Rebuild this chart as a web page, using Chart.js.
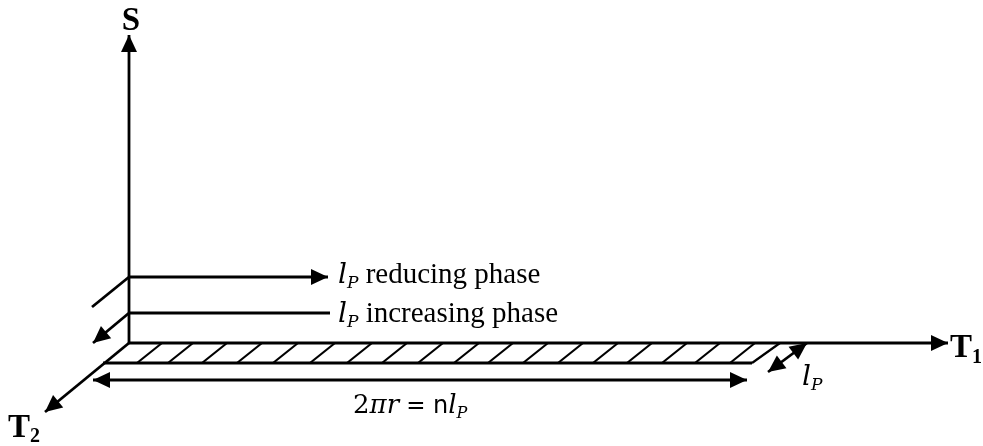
<!DOCTYPE html>
<html>
<head>
<meta charset="utf-8">
<script src="https://cdn.jsdelivr.net/npm/chart.js@4.4.1/dist/chart.umd.min.js"></script>
<style>
  html, body { margin: 0; background: #fff; }
  #wrap { width: 983px; height: 446px; }
</style>
</head>
<body>
<div id="wrap"><canvas id="diagram"></canvas></div>
<script>
// diagram coordinates (x to the right, y downwards)
const origin = [129, 343];
const axisEnds = { S: [129, 35], T1: [948, 343], T2: [45, 412] };

// l_P phase markers: [reducing, increasing]
const phaseY = [277, 313];
const phaseEndX = [328, 330];
const phaseDiagEnd = [[92, 307], [93, 343]];

// hatched strip along T1
const stripBottom = [[103, 363], [752, 363]];
const stripRightEdge = [[752, 363], [780, 343]];
const hatchBottomX = [137, 168, 202, 237, 273, 310, 347, 382, 418, 454, 488, 523, 558, 593, 627, 662, 695, 730];
const hatchTopX = [162, 193, 227, 262, 298, 335, 372, 407, 443, 479, 513, 548, 583, 618, 652, 687, 720, 755];

// dimension arrows
const circumArrow = [[93, 380], [747, 380]];
const widthArrow = [[768, 372], [807, 343]];

const serif = '"Liberation Serif", "Times New Roman", serif';
const math = '"DejaVu Serif", serif';
const sans = '"DejaVu Sans", sans-serif';

function pts(list) {
  return list.map(p => ({ x: p[0], y: p[1] }));
}

function seg(a, b, arrow, width) {
  return {
    data: pts([a, b]),
    showLine: true,
    borderColor: '#000',
    borderWidth: width || 2.8,
    pointRadius: 0,
    arrow: arrow || null,
  };
}

const datasets = [
  seg(origin, axisEnds.S, 'end'),
  seg(origin, axisEnds.T1, 'end'),
  seg(origin, axisEnds.T2, 'end'),
  seg([origin[0], phaseY[0]], [phaseEndX[0], phaseY[0]], 'end'),
  seg([origin[0], phaseY[0]], phaseDiagEnd[0]),
  seg([origin[0], phaseY[1]], [phaseEndX[1], phaseY[1]]),
  seg([origin[0], phaseY[1]], phaseDiagEnd[1], 'end'),
  seg(stripBottom[0], stripBottom[1]),
  seg(stripRightEdge[0], stripRightEdge[1], null, 2.2),
  seg(circumArrow[0], circumArrow[1], 'both'),
  seg(widthArrow[0], widthArrow[1], 'both'),
];
hatchBottomX.forEach((x, i) => {
  datasets.push(seg([x, 363], [hatchTopX[i], 343], null, 2.2));
});

// text labels: runs of [text, font, baseline shift]
const labels = [
  { at: [131, 30], align: 'center', runs: [['S', 'bold 33px ' + serif, 0]] },
  { at: [950, 357], runs: [['T', 'bold 33px ' + serif, 0], ['1', 'bold 20px ' + serif, 6]] },
  { at: [8, 437], runs: [['T', 'bold 33px ' + serif, 0], ['2', 'bold 20px ' + serif, 5]] },
  { at: [338, 283], runs: [['l', 'italic 28px ' + math, 0], ['P', 'italic 17px ' + math, 5],
                           [' reducing phase', '29px ' + serif, 0]] },
  { at: [338, 322], runs: [['l', 'italic 28px ' + math, 0], ['P', 'italic 17px ' + math, 5],
                           [' increasing phase', '29px ' + serif, 0]] },
  { at: [353, 413], runs: [['2', '26px ' + math, 0], ['πr', 'italic 26px ' + math, 0],
                           [' = ', '23px ' + sans, 0], ['n', '24px ' + sans, 0],
                           ['l', 'italic 26px ' + math, 0], ['P', 'italic 16px ' + math, 5]] },
  { at: [802, 385], runs: [['l', 'italic 28px ' + math, 0], ['P', 'italic 17px ' + math, 5]] },
];

const arrowPlugin = {
  id: 'arrows',
  afterDatasetsDraw(chart) {
    const ctx = chart.ctx;
    const sx = chart.scales.x, sy = chart.scales.y;
    const head = (from, to) => {
      const ang = Math.atan2(to.y - from.y, to.x - from.x);
      const len = 17, half = 8;
      ctx.beginPath();
      ctx.moveTo(to.x, to.y);
      ctx.lineTo(to.x - len * Math.cos(ang) + half * Math.sin(ang), to.y - len * Math.sin(ang) - half * Math.cos(ang));
      ctx.lineTo(to.x - len * Math.cos(ang) - half * Math.sin(ang), to.y - len * Math.sin(ang) + half * Math.cos(ang));
      ctx.closePath();
      ctx.fill();
    };
    ctx.save();
    ctx.fillStyle = '#000';
    chart.data.datasets.forEach(ds => {
      if (!ds.arrow) return;
      const p = ds.data.map(d => ({ x: sx.getPixelForValue(d.x), y: sy.getPixelForValue(d.y) }));
      head(p[p.length - 2], p[p.length - 1]);
      if (ds.arrow === 'both') head(p[1], p[0]);
    });
    ctx.restore();
  },
  afterDraw(chart) {
    const ctx = chart.ctx;
    const sx = chart.scales.x, sy = chart.scales.y;
    ctx.save();
    ctx.fillStyle = '#000';
    ctx.textBaseline = 'alphabetic';
    ctx.textAlign = 'left';
    labels.forEach(lb => {
      let x = sx.getPixelForValue(lb.at[0]);
      const y = sy.getPixelForValue(lb.at[1]);
      if (lb.align === 'center') {
        let w = 0;
        lb.runs.forEach(r => { ctx.font = r[1]; w += ctx.measureText(r[0]).width; });
        x -= w / 2;
      }
      lb.runs.forEach(r => {
        ctx.font = r[1];
        ctx.fillText(r[0], x, y + r[2]);
        x += ctx.measureText(r[0]).width;
      });
    });
    ctx.restore();
  },
};

new Chart(document.getElementById('diagram'), {
  type: 'scatter',
  data: { datasets },
  options: {
    animation: false,
    responsive: true,
    maintainAspectRatio: false,
    layout: { padding: 0 },
    plugins: {
      legend: { display: false },
      tooltip: { enabled: false },
    },
    scales: {
      x: { type: 'linear', min: 0, max: 983, display: false },
      y: { type: 'linear', min: 0, max: 446, reverse: true, display: false },
    },
  },
  plugins: [arrowPlugin],
});
</script>
</body>
</html>
